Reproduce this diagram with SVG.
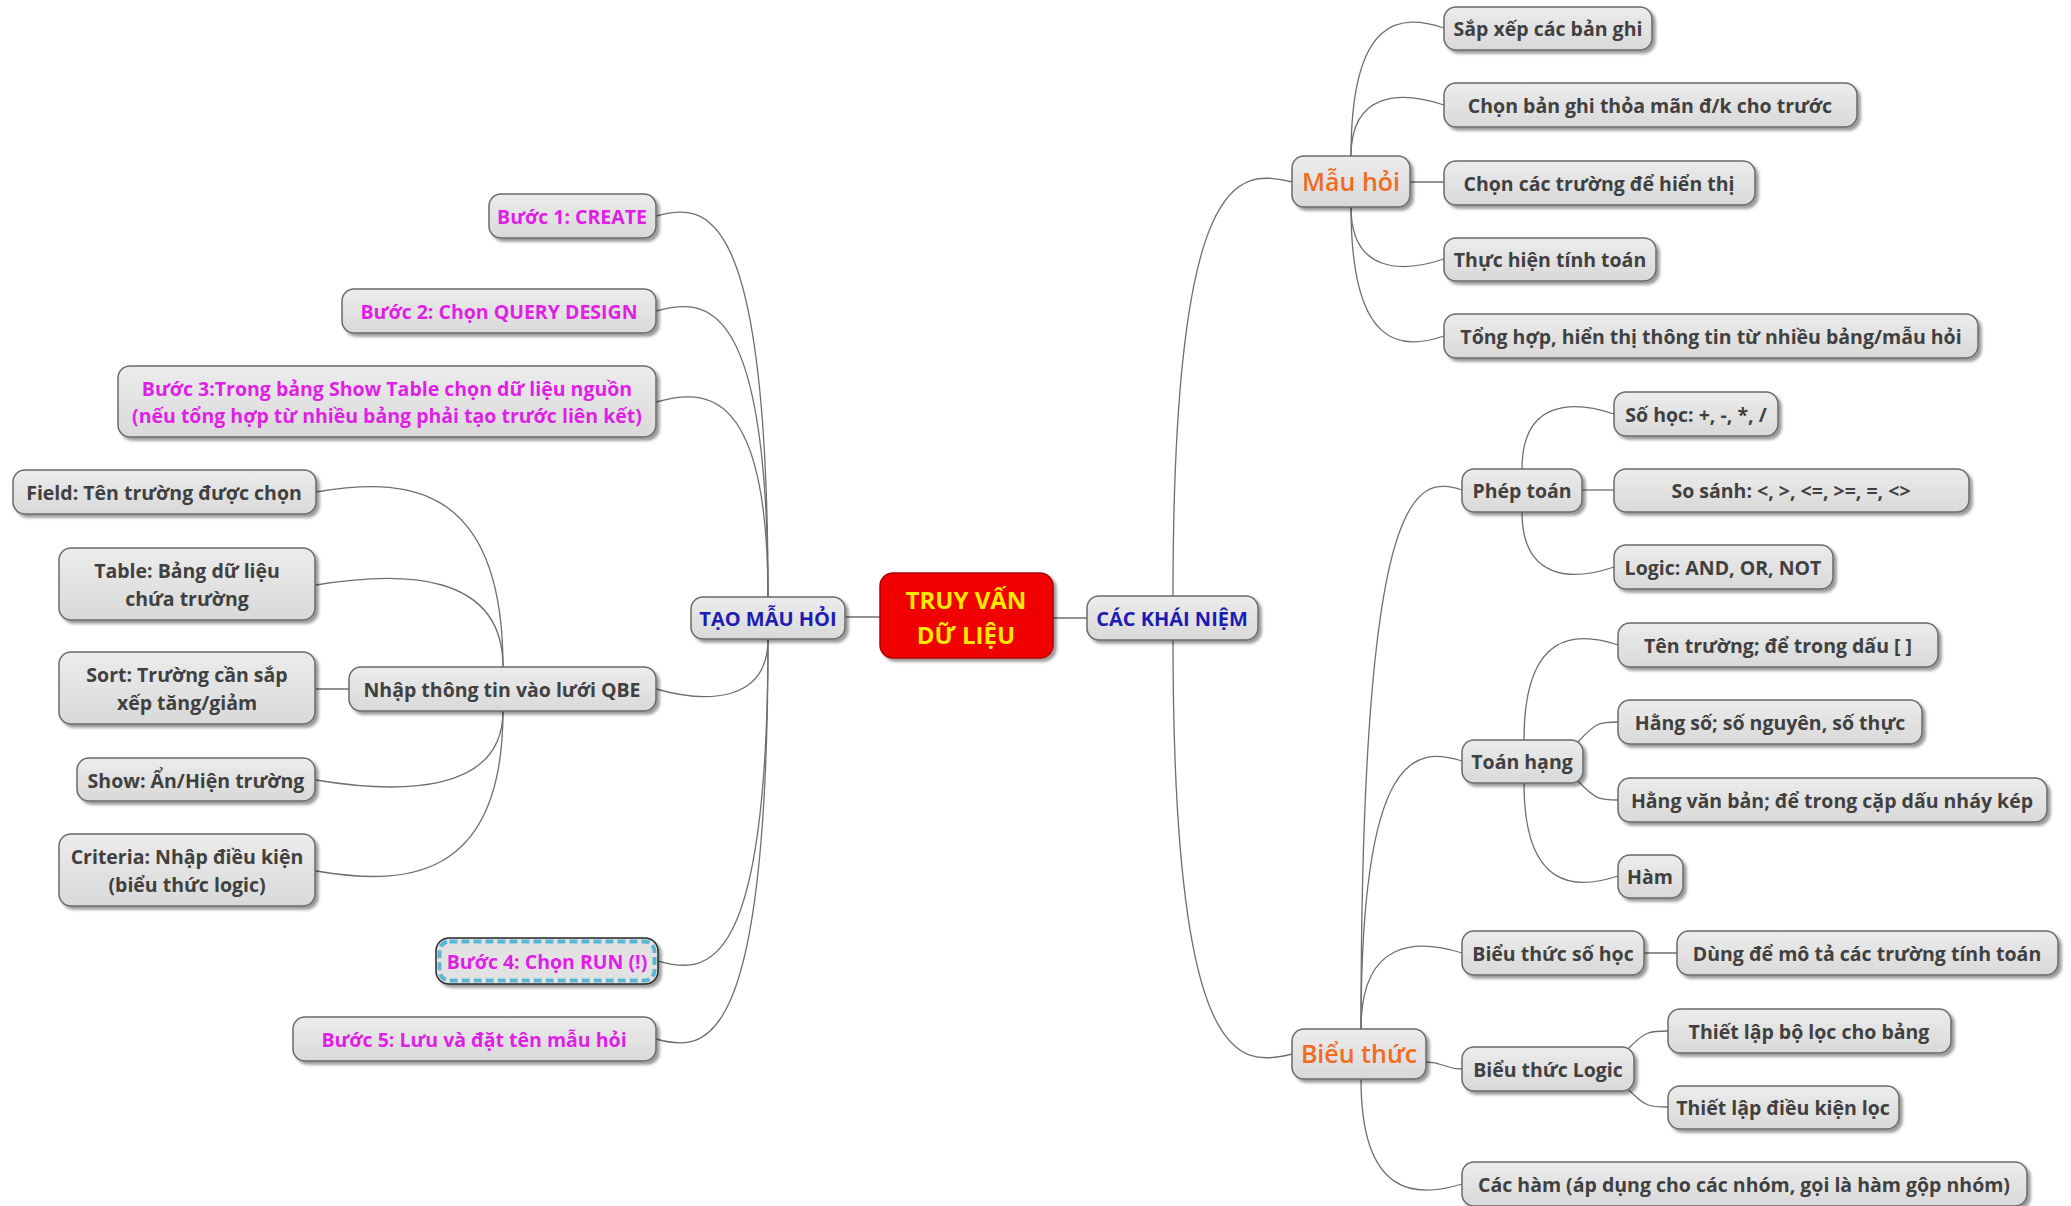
<svg xmlns="http://www.w3.org/2000/svg" width="2071" height="1206" viewBox="0 0 2071 1206">
<defs>
<linearGradient id="g" x1="0" y1="0" x2="0" y2="1">
<stop offset="0" stop-color="#ececec"/>
<stop offset="1" stop-color="#d9d9d9"/>
</linearGradient>
<filter id="sh" x="-10%" y="-20%" width="125%" height="160%">
<feDropShadow dx="3" dy="3" stdDeviation="1.6" flood-color="#000" flood-opacity="0.4"/>
</filter>
<style>
.n rect{fill:url(#g);stroke:#6a6a6a;stroke-width:1.5;filter:url(#sh)}
.t{font-family:"Open Sans","Noto Sans","DejaVu Sans",sans-serif;font-weight:700;font-size:19.5px;fill:#404040;text-anchor:middle;dominant-baseline:central}
.pk{fill:#e01ee6}
.bl{fill:#1c1cb4;font-weight:700;font-size:20px}
.or{fill:#f26b21;font-size:25px;font-weight:600}
.c path{fill:none;stroke:#6e6e6e;stroke-width:1.3}
</style>
</defs>
<rect width="2071" height="1206" fill="#ffffff"/>
<g id="connectors" class="c">
<path d="M845,617 L880,617"/>
<path d="M1053,618 L1087,618"/>
<path d="M656,216 C706,202 768,202 768,597"/>
<path d="M656,311 C706,297 768,297 768,597"/>
<path d="M656,402 C706,388 768,388 768,597"/>
<path d="M656,689 C706,703 768,703 768,639"/>
<path d="M658,961 C707,975 768,975 768,639"/>
<path d="M656,1039 C706,1053 768,1053 768,639"/>
<path d="M316,492 C400,478 503,478 503,667"/>
<path d="M316,585 C400,571 503,571 503,667"/>
<path d="M316,689 L349,689"/>
<path d="M316,780 C400,794 503,794 503,711"/>
<path d="M316,871 C400,885 503,885 503,711"/>
<path d="M1173,596 C1173,168 1238,168 1292,182"/>
<path d="M1173,640 C1173,1068 1238,1068 1292,1054"/>
<path d="M1351,156 C1351,14 1402,14 1444,28"/>
<path d="M1351,156 C1351,91 1402,91 1444,105"/>
<path d="M1410,182 L1444,182"/>
<path d="M1351,207 C1351,273 1402,273 1444,259"/>
<path d="M1351,207 C1351,350 1402,350 1444,336"/>
<path d="M1361,1029 C1361,476 1417,476 1462,490"/>
<path d="M1361,1029 C1361,747 1417,747 1462,761"/>
<path d="M1361,1029 C1361,939 1417,939 1462,953"/>
<path d="M1426,1062 C1444,1062 1444,1069 1462,1069"/>
<path d="M1361,1079 C1361,1198 1417,1198 1462,1184"/>
<path d="M1522,469 C1522,400 1573,400 1614,414"/>
<path d="M1582,490 L1614,490"/>
<path d="M1522,512 C1522,581 1573,581 1614,567"/>
<path d="M1524,740 C1524,631 1576,631 1618,645"/>
<path d="M1578,742 C1596,722 1600,722 1618,722"/>
<path d="M1578,781 C1596,800 1600,800 1618,800"/>
<path d="M1524,783 C1524,890 1576,890 1618,876"/>
<path d="M1644,953 L1677,953"/>
<path d="M1628,1049 C1645,1031 1650,1031 1668,1031"/>
<path d="M1628,1089 C1645,1107 1650,1107 1668,1107"/>
</g>

<g id="root">
<rect x="880" y="573" width="173" height="85" rx="13" fill="#f00000" stroke="#b00000" stroke-width="1.5" filter="url(#sh)"/>
<text class="t" x="966" y="599" style="fill:#ffe800;font-weight:700;font-size:24px">TRUY VẤN</text>
<text class="t" x="966" y="634" style="fill:#ffe800;font-weight:700;font-size:24px">DỮ LIỆU</text>
</g>
<g id="tao-mau-hoi" class="n"><rect x="691" y="597" width="154" height="42" rx="12"/><text class="t bl" x="768" y="618">TẠO MẪU HỎI</text></g>
<g id="cac-khai-niem" class="n"><rect x="1087" y="596" width="171" height="44" rx="12"/><text class="t bl" x="1172" y="618">CÁC KHÁI NIỆM</text></g>

<g id="buoc1" class="n"><rect x="489" y="194" width="167" height="44" rx="12"/><text class="t pk" x="572" y="216">Bước 1: CREATE</text></g>
<g id="buoc2" class="n"><rect x="342" y="289" width="314" height="44" rx="12"/><text class="t pk" x="499" y="311">Bước 2: Chọn QUERY DESIGN</text></g>
<g id="buoc3" class="n"><rect x="118" y="366" width="538" height="71" rx="12"/><text class="t pk" x="387" y="388">Bước 3:Trong bảng Show Table chọn dữ liệu nguồn</text><text class="t pk" x="387" y="415">(nếu tổng hợp từ nhiều bảng phải tạo trước liên kết)</text></g>
<g id="qbe" class="n"><rect x="349" y="667" width="307" height="44" rx="12"/><text class="t" x="502" y="689">Nhập thông tin vào lưới QBE</text></g>
<g id="field" class="n"><rect x="13" y="470" width="303" height="44" rx="12"/><text class="t" x="164" y="492">Field: Tên trường được chọn</text></g>
<g id="table" class="n"><rect x="59" y="548" width="256" height="72" rx="12"/><text class="t" x="187" y="570">Table: Bảng dữ liệu</text><text class="t" x="187" y="598">chứa trường</text></g>
<g id="sort" class="n"><rect x="59" y="652" width="256" height="72" rx="12"/><text class="t" x="187" y="674">Sort: Trường cần sắp</text><text class="t" x="187" y="702">xếp tăng/giảm</text></g>
<g id="show" class="n"><rect x="77" y="758" width="238" height="43" rx="12"/><text class="t" x="196" y="780">Show: Ẩn/Hiện trường</text></g>
<g id="criteria" class="n"><rect x="59" y="834" width="256" height="72" rx="12"/><text class="t" x="187" y="856">Criteria: Nhập điều kiện</text><text class="t" x="187" y="884">(biểu thức logic)</text></g>
<g id="buoc4">
<rect x="436" y="938" width="222" height="46" rx="13" fill="#e2e2e2" stroke="#2a2a2a" stroke-width="1.5" filter="url(#sh)"/>
<rect x="439.5" y="941.5" width="215" height="39" rx="10" fill="none" stroke="#5ab6d4" stroke-width="4" stroke-dasharray="8 4"/>
<text class="t pk" x="547" y="961">Bước 4: Chọn RUN (!)</text></g>
<g id="buoc5" class="n"><rect x="293" y="1017" width="363" height="44" rx="12"/><text class="t pk" x="474" y="1039">Bước 5: Lưu và đặt tên mẫu hỏi</text></g>

<g id="mau-hoi" class="n"><rect x="1292" y="156" width="118" height="51" rx="12"/><text class="t or" x="1351" y="181">Mẫu hỏi</text></g>
<g id="sap-xep" class="n"><rect x="1444" y="7" width="208" height="43" rx="12"/><text class="t" x="1548" y="28">Sắp xếp các bản ghi</text></g>
<g id="chon-ban-ghi" class="n"><rect x="1444" y="83" width="413" height="44" rx="12"/><text class="t" x="1650" y="105">Chọn bản ghi thỏa mãn đ/k cho trước</text></g>
<g id="chon-truong" class="n"><rect x="1444" y="161" width="311" height="44" rx="12"/><text class="t" x="1599" y="183">Chọn các trường để hiển thị</text></g>
<g id="tinh-toan" class="n"><rect x="1444" y="238" width="212" height="43" rx="12"/><text class="t" x="1550" y="259">Thực hiện tính toán</text></g>
<g id="tong-hop" class="n"><rect x="1444" y="314" width="534" height="44" rx="12"/><text class="t" x="1711" y="336">Tổng hợp, hiển thị thông tin từ nhiều bảng/mẫu hỏi</text></g>

<g id="phep-toan" class="n"><rect x="1462" y="469" width="120" height="43" rx="12"/><text class="t" x="1522" y="490">Phép toán</text></g>
<g id="so-hoc" class="n"><rect x="1614" y="392" width="164" height="44" rx="12"/><text class="t" x="1696" y="414">Số học: +, -, *, /</text></g>
<g id="so-sanh" class="n"><rect x="1614" y="469" width="355" height="43" rx="12"/><text class="t" x="1791" y="490">So sánh: &lt;, &gt;, &lt;=, &gt;=, =, &lt;&gt;</text></g>
<g id="logic" class="n"><rect x="1614" y="545" width="219" height="44" rx="12"/><text class="t" x="1723" y="567">Logic: AND, OR, NOT</text></g>

<g id="toan-hang" class="n"><rect x="1462" y="740" width="121" height="43" rx="12"/><text class="t" x="1522" y="761">Toán hạng</text></g>
<g id="ten-truong" class="n"><rect x="1618" y="623" width="320" height="44" rx="12"/><text class="t" x="1778" y="645">Tên trường; để trong dấu [ ]</text></g>
<g id="hang-so" class="n"><rect x="1618" y="700" width="304" height="44" rx="12"/><text class="t" x="1770" y="722">Hằng số; số nguyên, số thực</text></g>
<g id="hang-van-ban" class="n"><rect x="1618" y="778" width="429" height="44" rx="12"/><text class="t" x="1832" y="800">Hằng văn bản; để trong cặp dấu nháy kép</text></g>
<g id="ham" class="n"><rect x="1618" y="855" width="65" height="43" rx="12"/><text class="t" x="1650" y="876">Hàm</text></g>

<g id="bt-so-hoc" class="n"><rect x="1462" y="931" width="182" height="44" rx="12"/><text class="t" x="1553" y="953">Biểu thức số học</text></g>
<g id="dung-de" class="n"><rect x="1677" y="931" width="381" height="44" rx="12"/><text class="t" x="1867" y="953">Dùng để mô tả các trường tính toán</text></g>
<g id="bieu-thuc" class="n"><rect x="1292" y="1029" width="134" height="50" rx="12"/><text class="t or" x="1359" y="1053">Biểu thức</text></g>
<g id="bt-logic" class="n"><rect x="1462" y="1047" width="172" height="44" rx="12"/><text class="t" x="1548" y="1069">Biểu thức Logic</text></g>
<g id="bo-loc" class="n"><rect x="1668" y="1009" width="283" height="44" rx="12"/><text class="t" x="1809" y="1031">Thiết lập bộ lọc cho bảng</text></g>
<g id="dieu-kien" class="n"><rect x="1668" y="1086" width="231" height="43" rx="12"/><text class="t" x="1783" y="1107">Thiết lập điều kiện lọc</text></g>
<g id="cac-ham" class="n"><rect x="1462" y="1162" width="565" height="44" rx="12"/><text class="t" x="1744" y="1184">Các hàm (áp dụng cho các nhóm, gọi là hàm gộp nhóm)</text></g>
</svg>
